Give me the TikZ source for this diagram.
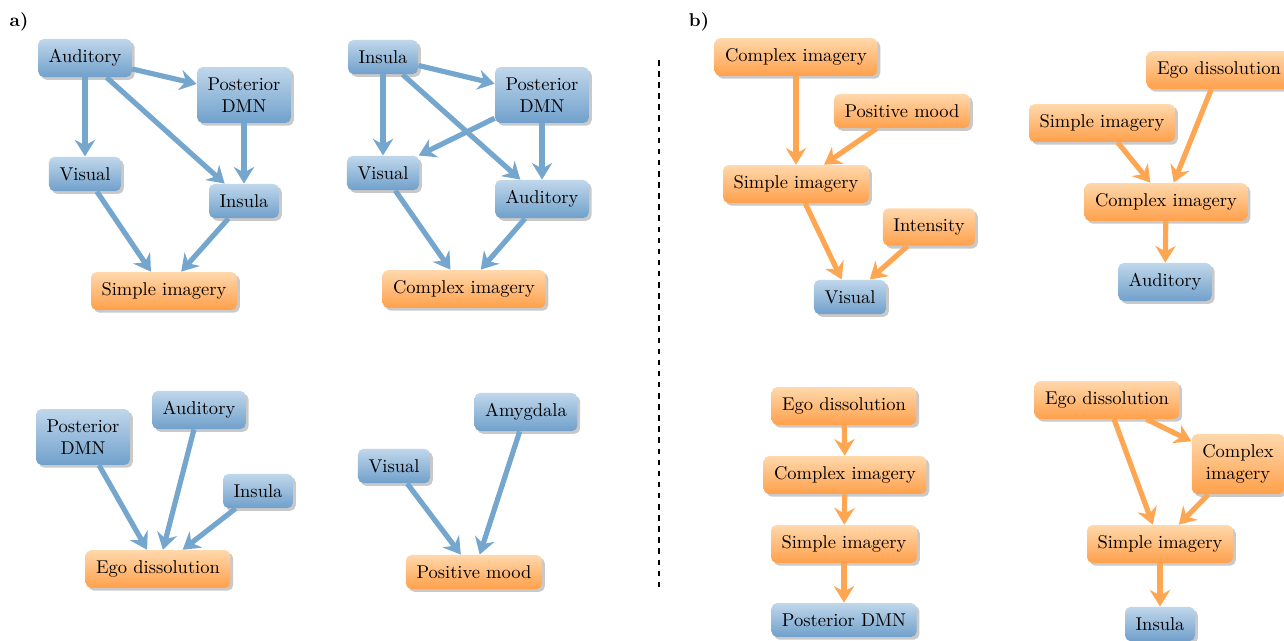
\documentclass[tikz,border=0pt]{standalone}
\usetikzlibrary{arrows.meta,shadows}
\definecolor{bluetop}{RGB}{192,215,235}
\definecolor{bluebot}{RGB}{112,160,203}
\definecolor{orangetop}{RGB}{255,216,172}
\definecolor{orangebot}{RGB}{255,160,75}
\definecolor{blueline}{RGB}{117,167,206}
\definecolor{orangeline}{RGB}{255,166,82}
\tikzset{
  box/.style={rectangle, rounded corners=3pt, inner sep=0.2cm, align=center,
    drop shadow={shadow xshift=1.5pt, shadow yshift=-1.5pt, opacity=0.3, fill=black!70}},
  bluebox/.style={box, top color=bluetop, bottom color=bluebot},
  orangebox/.style={box, top color=orangetop, bottom color=orangebot},
  conn/.style={-{Stealth[length=9pt,width=11pt,inset=3pt]}, line width=2.8pt},
  bconn/.style={conn, draw=blueline},
  oconn/.style={conn, draw=orangeline},
}
\begin{document}
\begin{tikzpicture}[x=0.5405pt,y=-0.5405pt]
\useasboundingbox (0,0) rectangle (1284,641);

\node (la) at (19,22) {\textbf{a)}};
\node (lb) at (699,22) {\textbf{b)}};
\coordinate (d1) at (659,60);
\coordinate (d2) at (659,590);
\draw[dashed, line width=0.6pt] (d1) -- (d2);

% panel a1
\node[bluebox] (a1aud) at (85,58) {Auditory};
\node[bluebox] (a1pd) at (244,95) {Posterior\\DMN};
\node[bluebox] (a1vis) at (85,174) {Visual};
\node[bluebox] (a1ins) at (244,201) {Insula};
\node[orangebox] (a1si) at (164,291) {Simple imagery};
\draw[bconn] (a1aud) -- (a1pd);
\draw[bconn] (a1aud) -- (a1vis);
\draw[bconn] (a1aud) -- (a1ins);
\draw[bconn] (a1pd) -- (a1ins);
\draw[bconn] (a1vis) -- (a1si);
\draw[bconn] (a1ins) -- (a1si);

% panel a2
\node[bluebox] (a2ins) at (383,57) {Insula};
\node[bluebox] (a2pd) at (542,95) {Posterior\\DMN};
\node[bluebox] (a2vis) at (383,173) {Visual};
\node[bluebox] (a2aud) at (542,199) {Auditory};
\node[orangebox] (a2ci) at (464,289) {Complex imagery};
\draw[bconn] (a2ins) -- (a2pd);
\draw[bconn] (a2ins) -- (a2vis);
\draw[bconn] (a2ins) -- (a2aud);
\draw[bconn] (a2pd) -- (a2vis);
\draw[bconn] (a2pd) -- (a2aud);
\draw[bconn] (a2vis) -- (a2ci);
\draw[bconn] (a2aud) -- (a2ci);

% panel a3
\node[bluebox] (a3pd) at (83,437) {Posterior\\DMN};
\node[bluebox] (a3aud) at (199,410) {Auditory};
\node[bluebox] (a3ins) at (258,491) {Insula};
\node[orangebox] (a3ego) at (158,569) {Ego dissolution};
\draw[bconn] (a3pd) -- (a3ego);
\draw[bconn] (a3aud) -- (a3ego);
\draw[bconn] (a3ins) -- (a3ego);

% panel a4
\node[bluebox] (a4vis) at (394,466) {Visual};
\node[bluebox] (a4amy) at (526,412) {Amygdala};
\node[orangebox] (a4pm) at (474,572) {Positive mood};
\draw[bconn] (a4vis) -- (a4pm);
\draw[bconn] (a4amy) -- (a4pm);

% panel b1
\node[orangebox] (b1ci) at (796,57) {Complex imagery};
\node[orangebox] (b1pm) at (902,111) {Positive mood};
\node[orangebox] (b1si) at (796,184) {Simple imagery};
\node[orangebox] (b1int) at (929,227) {Intensity};
\node[bluebox] (b1vis) at (850,297) {Visual};
\draw[oconn] (b1ci) -- (b1si);
\draw[oconn] (b1pm) -- (b1si);
\draw[oconn] (b1si) -- (b1vis);
\draw[oconn] (b1int) -- (b1vis);

% panel b2
\node[orangebox] (b2ego) at (1219,70) {Ego dissolution};
\node[orangebox] (b2si) at (1102,123) {Simple imagery};
\node[orangebox] (b2ci) at (1166,202) {Complex imagery};
\node[bluebox] (b2aud) at (1165,282) {Auditory};
\draw[oconn] (b2ego) -- (b2ci);
\draw[oconn] (b2si) -- (b2ci);
\draw[oconn] (b2ci) -- (b2aud);

% panel b3
\node[orangebox] (b3ego) at (844,406) {Ego dissolution};
\node[orangebox] (b3ci) at (845,475) {Complex imagery};
\node[orangebox] (b3si) at (844,544) {Simple imagery};
\node[bluebox] (b3pd) at (844,620) {Posterior DMN};
\draw[oconn] (b3ego) -- (b3ci);
\draw[oconn] (b3ci) -- (b3si);
\draw[oconn] (b3si) -- (b3pd);

% panel b4
\node[orangebox] (b4ego) at (1107,400) {Ego dissolution};
\node[orangebox] (b4ci) at (1238,464) {Complex\\imagery};
\node[orangebox] (b4si) at (1160,544) {Simple imagery};
\node[bluebox] (b4ins) at (1160,624) {Insula};
\draw[oconn] (b4ego) -- (b4ci);
\draw[oconn] (b4ego) -- (b4si);
\draw[oconn] (b4ci) -- (b4si);
\draw[oconn] (b4si) -- (b4ins);
\end{tikzpicture}
\end{document}
